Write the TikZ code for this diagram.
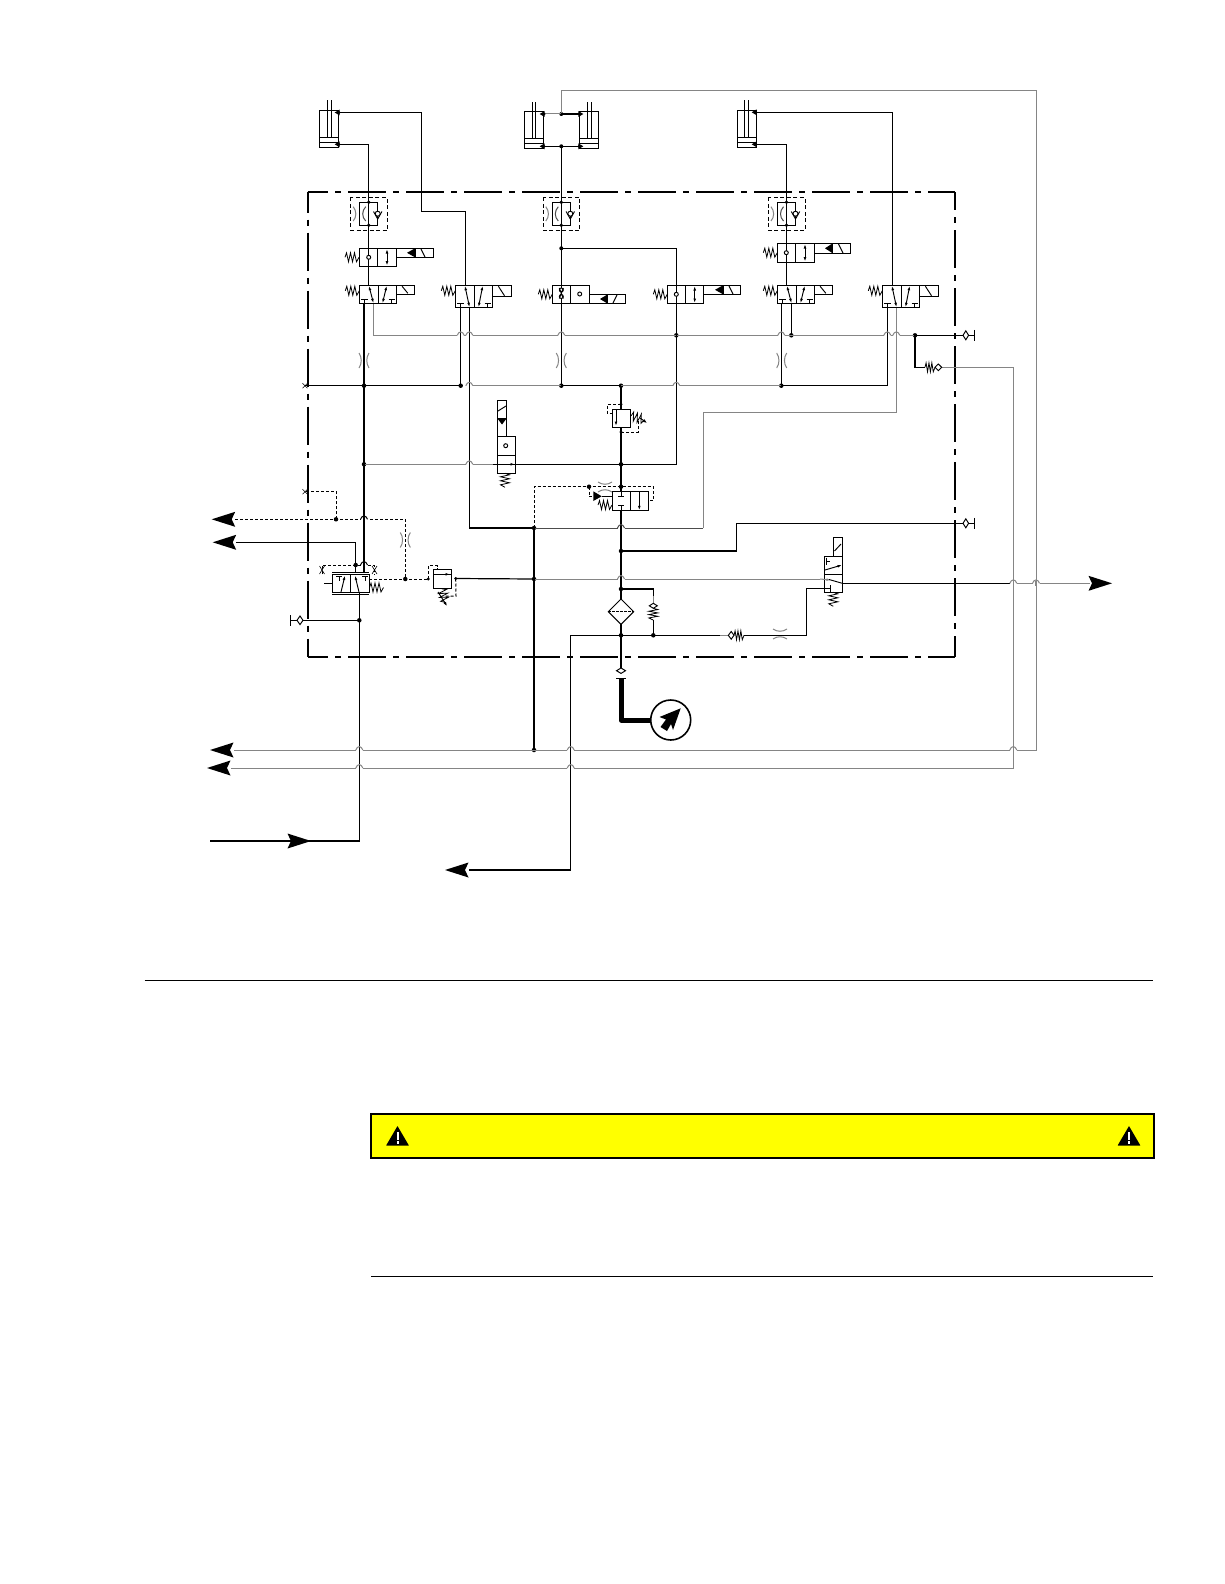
\documentclass[tikz,border=0pt]{standalone}
\usetikzlibrary{arrows.meta}
\definecolor{linegray}{gray}{0.52}
\definecolor{darkgray}{gray}{0.3}
\definecolor{cautionyellow}{RGB}{255,255,0}
\tikzset{
  blk/.style={line width=1.2pt,black},
  gry/.style={line width=1pt,linegray},
  dgr/.style={line width=1pt,darkgray},
  dsh/.style={line width=1pt,black,dash pattern=on 3pt off 2pt},
  boxd/.style={line width=1pt,black,dash pattern=on 4pt off 2.5pt},
  sym/.style={line width=0.95pt,black},
  frm/.style={line width=2.2pt,black,dash pattern=on 38pt off 7pt on 6pt off 7pt,dash phase=17.3pt},
  frmr/.style={line width=1.2pt,black,dash pattern=on 38pt off 7pt on 6pt off 7pt,dash phase=20pt},
  jdot/.style={circle,fill=black,inner sep=0pt,minimum size=4.5pt},
  harr/.style={-{Latex[length=4.5pt,width=2.8pt]}},
  darr/.style={{Latex[length=4.5pt,width=2.8pt]}-{Latex[length=4.5pt,width=2.8pt]}},
}
\newcommand{\sprl}[4]{\begin{scope}[shift={(#1,#2)},rotate=#3,xscale=#4]
  \draw[sym,line width=.8pt] (0,0)--(1.5,-4.5)--(3.5,4.5)--(5.5,-4.5)--(7.5,4.5)--(9.5,-4.5)--(11.5,4.5)--(14,0);
\end{scope}}
\newcommand{\spr}[3]{\sprl{#1}{#2}{#3}{1}}
% four-way valve with T ports: x,y,h,act width,act height
\newcommand{\fvalve}[5]{\begin{scope}[shift={(#1,#2)},sym]
  \draw (0,0) rectangle (37.4,#3);
  \draw (18.7,0)--(18.7,#3);
  \draw (37.4,0) rectangle ({37.4+#4},#5);
  \draw ({37.4+0.3*#4},1)--({37.4+0.62*#4},{#5-1});
  \draw[darr] (9.6,0.5)--(14.2,{#3-0.5});
  \draw[darr] (23.2,{#3-0.5})--(27.4,0.5);
  \draw (5,{#3-4.5})--(5,#3) (1.8,{#3-4.5})--(8.2,{#3-4.5});
  \draw (32.4,{#3-4.5})--(32.4,#3) (29.2,{#3-4.5})--(35.6,{#3-4.5});
\end{scope}\spr{#1-14}{#2+5.5}{0}}
\newcommand{\cyl}[5]{\begin{scope}[sym]
  \draw (#1,#2) rectangle ({#1+19.2},#3);
  \draw (#1,{#3-10}) -- ({#1+19.2},{#3-10});
  \draw (#1,{#3-5}) -- ({#1+19.2},{#3-5});
  \draw (#4,#2-9.5)--(#4,{#3-10}) (#5,#2-9.5)--(#5,{#3-10});
\end{scope}}
% check/orifice block, centre x
\newcommand{\cvblock}[1]{\begin{scope}[shift={(#1,0)},sym]
  \draw (-9.2,202.3) rectangle (9.2,225.3);
  \draw[boxd] (-18.2,197.3) rectangle (18.5,230.3);
  \draw[gry] (-15.5,206.7) .. controls (-12,211) and (-12,217) .. (-15.5,221);
  \draw[dgr] (-3,206.7) .. controls (-7,211) and (-7,217) .. (-3,221);
  \draw (4.8,211.5)--(9,219)--(13.2,211.5);
  \draw[fill=white] (9,213.7) circle (2.5);
  \node[jdot,minimum size=3.8pt] at (0,202.3) {};
  \node[jdot,minimum size=3.8pt] at (0,225.3) {};
\end{scope}}
% orifices
\newcommand{\orif}[2]{\draw[gry] ({#1-5},{#2-7.5}) .. controls ({#1-2},{#2-3}) and ({#1-2},{#2+3}) .. ({#1-5},{#2+7.5});
 \draw[gry] ({#1+5},{#2-7.5}) .. controls ({#1+2},{#2-3}) and ({#1+2},{#2+3}) .. ({#1+5},{#2+7.5});}
\newcommand{\orifh}[2]{\draw[gry] ({#1-7},{#2-5}) .. controls ({#1-3},{#2-2}) and ({#1+3},{#2-2}) .. ({#1+7},{#2-5});
 \draw[gry] ({#1-7},{#2+5}) .. controls ({#1-3},{#2+2}) and ({#1+3},{#2+2}) .. ({#1+7},{#2+5});}
% hop of a horizontal line over a vertical one: x,y,hcolor,vcolor
\newcommand{\hop}[4]{\draw[white,line width=1.8pt] ({#1-3.5},#2)--({#1+3.5},#2);
 \draw[#3,line width=1pt] ({#1-3.5},#2) .. controls ({#1-2},{#2-4.5}) and ({#1+2},{#2-4.5}) .. ({#1+3.5},#2);
 \draw[#4,line width=1.2pt] (#1,{#2-2.5})--(#1,{#2+2.5});}
% large arrowhead: tip x, y, direction +1 (points left) or -1 (points right)
\newcommand{\bigarrow}[3]{\fill[black] (#1,#2)--({#1+#3*23.5},{#2-7.5})--({#1+#3*20},#2)--({#1+#3*23.5},{#2+7.5})--cycle;}
% port diamond with bar: x (left of diamond), y
\newcommand{\portT}[2]{\draw[sym,fill=white] (#1,#2)--({#1+2.8},{#2-4.5})--({#1+5.6},#2)--({#1+2.8},{#2+4.5})--cycle;
 \draw[line width=1.1pt] ({#1+11.3},{#2-5.5})--({#1+11.3},{#2+5.5}) ({#1+5.6},#2)--({#1+11.3},#2);}
\newcommand{\warn}[1]{\fill[black,rounded corners=.5pt] ({#1-11.5},1145.7)--(#1,1126)--({#1+11.5},1145.7)--cycle;
 \fill[white] ({#1-1},1131.5) rectangle ({#1+1},1139.5);
 \fill[white] ({#1-1},1141) rectangle ({#1+1},1143.5);}
\begin{document}
\begin{tikzpicture}[x=1pt,y=-1pt]
\useasboundingbox (0,0) rectangle (1224,1584);
\fill[white] (0,0) rectangle (1224,1584);

% ---------------- enclosure
\draw[frm] (307.7,192)--(955,192);
\draw[frmr] (955,192)--(955,656.7);
\draw[frm] (307.7,656.7)--(955,656.7);
\draw[frm] (307.7,192)--(307.7,656.7);

% ---------------- named junctions
\coordinate (rowA) at (373.3,335.3);
\node[jdot] (j1) at (364,385.7) {};
\node[jdot] (j2) at (460.7,385.7) {};
\node[jdot] (j3) at (561.3,385.7) {};
\node[jdot] (j4) at (621,385.7) {};
\node[jdot] (j5) at (781.3,385.7) {};
\node[jdot] (j6) at (676.3,335.3) {};
\node[jdot] (j7) at (791.3,335.3) {};
\node[jdot] (j8) at (915,335.3) {};
\node[jdot] (j9) at (364,464.3) {};
\node[jdot] (j10) at (621,464.3) {};
\node[jdot] (j11) at (621,486.7) {};
\node[jdot] (j12) at (589,486.7) {};
\node[jdot] (j13) at (534,528) {};
\node[jdot] (j14) at (534,579) {};
\node[jdot] (j15) at (621,551) {};
\node[jdot] (j16) at (621,589) {};
\node[jdot] (j17) at (621,635.3) {};
\node[jdot] (j18) at (653.3,635.3) {};
\node[jdot] (j19) at (534,750) {};
\node[jdot] (j20) at (336,519.3) {};
\node[jdot] (j21) at (405.3,579) {};
\node[jdot] (j22) at (355.7,565) {};
\node[jdot] (j23) at (359.3,620.3) {};
\node[jdot,minimum size=3.2pt] (j24) at (428.3,579) {};
\node[jdot,minimum size=3.2pt] (j25) at (455.7,578.5) {};
\node[jdot,minimum size=4pt] (j26) at (561.3,114) {};
\node[jdot,minimum size=4pt] (j27) at (561.3,146.3) {};
\node[jdot,minimum size=4pt] (j28) at (561.3,248.3) {};
\node[jdot,minimum size=3.2pt] (j29) at (621,404.3) {};
\node[jdot,minimum size=3.2pt] (j30) at (621,432) {};

% ---------------- gray rows and lines
\draw[gry] (373.3,303.7)--(rowA)--(j8.center);
\draw[gry] (469.3,385.7)--(j3.center);
\draw[gry] (j4.center)--(j5.center);
\draw[gry] (j9.center)--(493,464.3);
\draw[blk] (493,464.3)--(j10.center)--(676.3,464.3)--(676.3,248.3)--(j28.center);
\draw[gry] (j14.center)--(820,579);
\draw[gry] (896.3,307.7)--(896.3,412)--(703,412)--(703,528);
\draw[dgr] (703,528)--(j13.center);
\draw[blk] (j13.center)--(469.3,528)--(469.3,307.7);
\draw[gry] (941.7,367.3)--(1013.3,367.3)--(1013.3,768)--(231,768);
\draw[gry] (j26.center)--(561.3,90.7)--(1036,90.7)--(1036,750)--(234,750);
\draw[gry] (1011,583.3)--(1090,583.3);
\draw[blk] (842.3,583.3)--(1011,583.3);

% ---------------- black lines
\draw[blk] (305,385.7)--(j2.center);
\draw[blk] (j3.center)--(j4.center);
\draw[blk] (j5.center)--(887.3,385.7)--(887.3,307.7);
\draw[blk] (460.7,307.7)--(j2.center);
\draw[blk] (364,303.7)--(j1.center)--(j9.center)--(364,572.3);
\draw[blk] (j27.center)--(j3.center);
\draw[blk] (j27.center)--(543.7,146.3) (j27.center)--(579.3,146.3);
\draw[blk] (j26.center)--(579.3,114);
\draw[gry] (j26.center)--(543.7,114);
\draw[blk] (j28.center)--(676.3,248.3);
\draw[blk] (338.7,112.5)--(421.3,112.5)--(421.3,211.3)--(465.7,211.3)--(465.7,285.3);
\draw[blk] (338.7,144.3)--(368.7,144.3)--(368.7,285.3);
\draw[blk] (755.7,112.3)--(892.3,112.3)--(892.3,285.3);
\draw[blk] (755.7,144.3)--(786.3,144.3)--(786.3,285.3);
\draw[blk] (781.3,303.7)--(j5.center);
\draw[blk] (791.3,303.7)--(j7.center);
\draw[blk] (j8.center)--(964,335.3);
\draw[blk] (j8.center)--(915,367.3)--(925,367.3);
\draw[blk] (j4.center)--(621,409.3);
\draw[blk] (621,427.3)--(621,491.3);
\draw[blk] (621,510.7)--(621,599);
\draw[blk] (621,624.4)--(621,668);
\draw[blk] (j15.center)--(736.3,551)--(736.3,523.3)--(964,523.3);
\draw[blk] (j16.center)--(653.3,589)--(653.3,596);
\draw[blk] (653.3,620)--(j18.center);
\draw[blk] (570.7,635.3)--(j17.center)--(720,635.3);
\draw[gry] (720,635.3)--(728,635.3);
\draw[blk] (744,635.3)--(806.7,635.3)--(806.7,588.3)--(824.3,588.3);
\draw[blk] (570.7,635.3)--(570.7,870)--(469,870);
\draw[blk] (j13.center)--(j14.center)--(j19.center);
\draw[blk] (j25.center)--(j14.center);
\draw[blk] (359.3,592.7)--(j23.center)--(359.3,841)--(290,841);
\draw[blk] (210,841)--(290,841);
\draw[blk] (303,620.3)--(j23.center);
\draw[blk] (236,542.3)--(355.7,542.3)--(j22.center)--(355.7,572.3);
% thick gauge line
\draw[line width=5pt,black,line join=round] (621,678)--(621,720)--(651,720);

% ---------------- dashed pilots
\draw[dsh] (235,519.3)--(405.3,519.3)--(j21.center);
\draw[dsh] (j20.center)--(336,491.7)--(305,491.7);
\draw[dsh] (369,579)--(j24.center);
\draw[dsh] (322.3,574.3)--(322.3,565)--(374,565)--(374,575);
\draw[dsh] (j24.center)--(428.3,565.7)--(437.3,565.7)--(437.3,569.3);
\draw[dsh] (j25.center)--(456,596)--(445,596);
\draw[dsh] (j29.center)--(607.3,404.3)--(607.3,413.3)--(612.3,413.3);
\draw[dsh] (j30.center)--(638.3,432)--(638.3,420);
\draw[dsh] (534,528)--(534,486.7)--(653.3,486.7)--(653.3,500.7)--(648.3,500.7);
\draw[dsh] (j12.center)--(589,496.3)--(593.3,496.3);

% ---------------- cylinders
\cyl{319.3}{110}{147.5}{327}{331}
\cyl{524.3}{111.7}{148.3}{532.3}{535.7}
\cyl{579.3}{111.7}{148.3}{587.3}{591}
\cyl{737.3}{110}{147.3}{744.3}{748.7}
\foreach \px/\py in {338.7/112.5,338.7/144.3,755.7/112.3,755.7/144.3,543.7/114,543.7/146.3}
  {\fill (\px+1,\py-3)--(\px+1,\py+3)--(\px-4,\py)--cycle; \fill (\px,\py) circle (1.8);}
\foreach \px/\py in {579.3/114,579.3/146.3}
  {\fill (\px-1,\py-3)--(\px-1,\py+3)--(\px+4,\py)--cycle; \fill (\px,\py) circle (1.8);}

% ---------------- check blocks
\cvblock{368.7}
\cvblock{561.3}
\cvblock{786.5}

% ---------------- upper solenoid stage valves
\begin{scope}[sym]
  % left
  \draw (359.3,248.3) rectangle (396.7,266.3); \draw (377.7,248.3)--(377.7,266.3);
  \draw (396.7,248.3) rectangle (433.7,257.3); \draw (415,248.3)--(415,257.3);
  \fill (407,252.8)--(415,248.3)--(415,257.3)--cycle;
  \draw (421,249)--(425,257);
  \draw[darr] (387,249)--(387,265.6);
  \draw[fill=white] (368.7,257.3) circle (2);
  % right
  \draw (777.3,243.3) rectangle (814.3,262.3); \draw (795.7,243.3)--(795.7,262.3);
  \draw (814.3,243.3) rectangle (850.3,253.3); \draw (832.7,243.3)--(832.7,253.3);
  \fill (825,248.3)--(832.7,243.3)--(832.7,253.3)--cycle;
  \draw (838.5,244)--(843,253);
  \draw[darr] (805,244)--(805,261.6);
  \draw[fill=white] (786.3,252.7) circle (2);
  % centre
  \draw (552.3,285.3) rectangle (589.7,303.7); \draw (570.7,285.3)--(570.7,303.7);
  \draw (589.7,294.3) rectangle (625.7,303.7); \draw (607.7,294.3)--(607.7,303.7);
  \fill (600,299)--(607.7,294.3)--(607.7,303.7)--cycle;
  \draw (613,303)--(617,295);
  \draw[fill=white] (561.3,290) circle (2) (561.3,296.5) circle (2);
  \draw (559.3,288)--(563.3,298.5) (563.3,288)--(559.3,298.5);
  \draw[fill=white] (579.7,294) circle (2);
  % centre-right
  \draw (667.3,285.3) rectangle (703.7,303.7); \draw (685.3,285.3)--(685.3,303.7);
  \draw (703.7,285.3) rectangle (740.3,294.3); \draw (723,285.3)--(723,294.3);
  \fill (715,289.8)--(723,285.3)--(723,294.3)--cycle;
  \draw (729,286)--(733,294);
  \draw[darr] (694.7,286)--(694.7,303);
  \draw[fill=white] (676.3,294.3) circle (2);
\end{scope}
\spr{345}{257.3}{0}
\spr{763.3}{252.7}{0}
\spr{538.3}{294.3}{0}
\spr{653.3}{294.3}{0}

\fvalve{359.3}{285.3}{18.4}{18}{9}
\fvalve{455.3}{285.3}{22.4}{19}{11.4}
\fvalve{777.3}{285.3}{18.4}{18}{9}
\fvalve{882.3}{285.3}{22.4}{19}{11.4}

% ---------------- orifices
\orif{364}{360.5}
\orif{561.3}{360.5}
\orif{781.7}{360.5}
\orif{405.3}{540}
\orifh{605}{487}
\orifh{780}{634}
\draw[sym,line width=.6pt] (319.5,566)--(324.5,574) (324.5,566)--(319.5,574);
\draw[sym,line width=.6pt] (372,566)--(377,574) (377,566)--(372,574);
\draw[sym,line width=.6pt] (302.5,383.2)--(307.5,388.2) (307.5,383.2)--(302.5,388.2);
\draw[sym,line width=.6pt] (302.5,489.2)--(307.5,494.2) (307.5,489.2)--(302.5,494.2);

% ---------------- relief valve upper
\begin{scope}[sym]
  \draw (612.3,409.3) rectangle (630.3,427.3);
  \draw[harr] (616,410)--(616,426);
  \spr{631}{416}{-15}
  \draw[-{Latex[length=4pt,width=3pt]}] (640,418)--(647,423);
\end{scope}
% ---------------- vertical solenoid valve
\begin{scope}[sym]
  \draw (497.3,400.3) rectangle (506.7,436.3); \draw (497.3,418.3)--(506.7,418.3);
  \fill (497.3,418.3)--(506.7,418.3)--(502,424.5)--cycle;
  \draw (498,411)--(506,406);
  \draw[fill=white] (497.3,436.3) rectangle (515.7,473.3); \draw (497.3,455.3)--(515.7,455.3);
  \draw[fill=white] (505.7,445.7) circle (2);
\end{scope}
\draw[blk] (493,464.3)--(621,464.3);
\draw[sym,harr] (505,464.3)--(515,464.3);
\spr{505}{473.3}{-90}
% ---------------- pilot valve in centre
\begin{scope}[sym]
  \draw[fill=white] (612.3,491.3) rectangle (648.3,510.7); \draw (630.3,491.3)--(630.3,510.7);
  \fill (593.3,491.3)--(593.3,501)--(601.7,496.3)--cycle;
  \draw (601.7,496.3)--(612.3,496.3);
  \draw (621,491.3)--(621,496.7) (618,496.7)--(624,496.7);
  \draw (621,510.7)--(621,505) (618,505)--(624,505);
  \draw[harr] (639.3,491.3)--(639.3,510.3);
\end{scope}
\spr{598}{505}{0}
% ---------------- left pilot valve
\begin{scope}[sym]
  \draw (332.3,574.3) rectangle (369,592.7); \draw (350.3,574.3)--(350.3,592.7);
  \draw (332.3,572.3)--(369,572.3);
  \draw (332.3,594)--(369,594);
  \draw (324,583.3)--(332.3,583.3);
  \draw (336,576)--(342,576) (339,576)--(339,581);
  \draw[harr] (341,592)--(345,575.5);
  \draw[harr] (359,592)--(355,575.5);
  \draw (362,576)--(368,576) (365,576)--(365,581);
\end{scope}
\spr{369.5}{587.5}{0}
% ---------------- left relief valve
\begin{scope}[sym]
  \draw[fill=white] (433.3,569.3) rectangle (451.7,588.7);
  \draw (433.3,574.3)--(451.7,574.3);
  \draw[harr] (436,574.3)--(450,574.3);
  \spr{442}{589}{-75}
  \draw[-{Latex[length=4pt,width=3pt]}] (438,592)--(447,606);
\end{scope}
% ---------------- lower right valve
\begin{scope}[sym]
  \draw[fill=white] (824.3,556) rectangle (842.3,592.3); \draw (824.3,574.3)--(842.3,574.3);
  \draw (833.3,537.3) rectangle (842.3,556);
  \draw (834.5,551)--(841,544);
  \draw[harr] (825,570)--(842,565);
  \draw (826.5,557.5)--(826.5,565) (826,561)--(830,561);
  \draw[gry,harr] (820,579)--(831,580);
  \draw (829,579.5)--(842.3,583.3);
  \draw (830,588.3)--(824.3,588.3) (830,585)--(830,591.5);
\end{scope}
\spr{833.3}{592.3}{-90}
% ---------------- filter
\draw[sym,fill=white] (621,599)--(633.7,611.7)--(621,624.4)--(608.3,611.7)--cycle;
\draw[sym,dash pattern=on 2.5pt off 1.5pt] (608.3,611.7)--(633.7,611.7);
% ---------------- spring-check symbols
\draw[gry] (653.3,596)--(653.3,603.3);
\draw[sym,fill=white] (653.3,603.3)--(657.3,605.8)--(653.3,608.3)--(649.3,605.8)--cycle;
\sprl{653.3}{608.3}{-90}{.84}
\draw[sym,fill=white] (728.3,635.3)--(731.2,631.5)--(734,635.3)--(731.2,639.2)--cycle;
\sprl{734}{635.3}{0}{.72}
\sprl{925}{367.3}{0}{.72}
\draw[sym,fill=white] (935,367.3)--(938.3,364)--(941.7,367.3)--(938.3,370.6)--cycle;
\portT{963}{335.3}
\portT{963}{523.3}
\draw[sym,fill=white] (303,620.3)--(300,616)--(297,620.3)--(300,624.6)--cycle;
\draw[line width=1.1pt] (290.7,615)--(290.7,625.5) (290.7,620.3)--(297,620.3);
\draw[sym,fill=white] (616.5,670.7)--(621,668)--(625.5,670.7)--(621,673.4)--cycle;
\draw[sym] (616,678)--(626,678);
% ---------------- gauge
\draw[line width=1.6pt,fill=white] (670.7,720) circle (20);
\fill (680.7,708.3)--(659.5,717)--(666,719.5)--(660.5,727)--(667,731)--(671,724)--(673,730)--cycle;

% ---------------- hops
\foreach \hx/\hy/\hc/\vc in {460.7/335.3/linegray/black,469.3/335.3/linegray/black,561.3/335.3/linegray/black,781.3/335.3/linegray/black,887.3/335.3/linegray/black,896.3/335.3/linegray/linegray,
 469.3/385.7/linegray/black,676.3/385.7/linegray/black,469.3/464.3/linegray/black,621/528/darkgray/black,621/579/linegray/black,
 1013.3/583.3/linegray/linegray,1036/583.3/linegray/linegray,359.3/750/linegray/black,570.7/750/linegray/black,1013.3/750/linegray/linegray,359.3/768/linegray/black,570.7/768/linegray/black}
  {\hop{\hx}{\hy}{\hc}{\vc}}
\foreach \hx/\hy in {364/519.3,364/565}
  {\hop{\hx}{\hy}{black}{black}}

% ---------------- big arrowheads
\bigarrow{211.7}{519.3}{1}
\bigarrow{212.7}{542.3}{1}
\bigarrow{210}{750}{1}
\bigarrow{207}{768}{1}
\bigarrow{445}{870}{1}
\bigarrow{311}{841}{-1}
\bigarrow{1112}{583.3}{-1}

% ---------------- page rules and caution bar
\draw[line width=1pt] (144.5,980)--(1153,980);
\draw[line width=2pt,fill=cautionyellow] (371,1114) rectangle (1153.5,1157.5);
\warn{397.5}
\warn{1129}
\draw[line width=1pt] (371,1276)--(1153,1276);
\end{tikzpicture}
\end{document}
